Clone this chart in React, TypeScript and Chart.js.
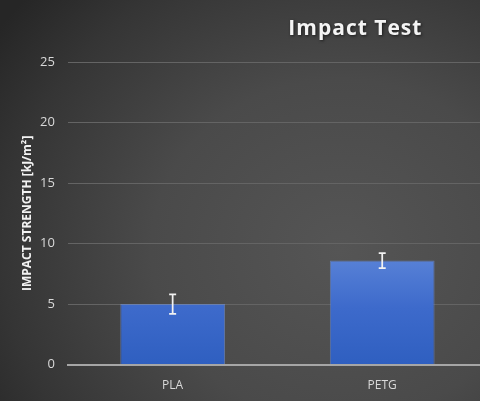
import React, { useEffect, useRef } from "react";
import { Chart, registerables } from "chart.js";

Chart.register(...registerables);

const categories = ["PLA", "PETG"];
const strengthValues = [5.0, 8.6];
const strengthErrors = [0.8, 0.62];
const yTicks = [0, 5, 10, 15, 20, 25];
const titleText = "Impact Test";
const yAxisTitle = "IMPACT STRENGTH [kJ/m²]";

const errorBarPlugin = {
  id: "errorBars",
  afterDatasetsDraw(chart: any) {
    const ctx = chart.ctx;
    const meta = chart.getDatasetMeta(0);
    const y = chart.scales.y;
    ctx.save();
    ctx.strokeStyle = "#f2f2f2";
    ctx.lineWidth = 1.75;
    meta.data.forEach((bar: any, i: number) => {
      const v = strengthValues[i];
      const e = strengthErrors[i];
      const yTop = y.getPixelForValue(v + e);
      const yBot = y.getPixelForValue(v - e);
      const x = bar.x;
      const cap = 3.5;
      ctx.beginPath();
      ctx.moveTo(x, yTop);
      ctx.lineTo(x, yBot);
      ctx.moveTo(x - cap, yTop);
      ctx.lineTo(x + cap, yTop);
      ctx.moveTo(x - cap, yBot);
      ctx.lineTo(x + cap, yBot);
      ctx.stroke();
    });
    ctx.restore();
  },
};

const titlePlugin = {
  id: "offsetTitle",
  afterDraw(chart: any) {
    const ctx = chart.ctx;
    const area = chart.chartArea;
    ctx.save();
    ctx.font = "bold 21px 'Open Sans', sans-serif";
    (ctx as any).letterSpacing = "1px";
    ctx.fillStyle = "#f4f4f4";
    ctx.textAlign = "center";
    ctx.textBaseline = "middle";
    ctx.shadowColor = "rgba(0,0,0,0.6)";
    ctx.shadowBlur = 3;
    ctx.shadowOffsetX = 1;
    ctx.shadowOffsetY = 1;
    const cx = area.left + (area.right - area.left) * 0.686;
    ctx.fillText(titleText, cx, area.top - 33);
    ctx.restore();

    // y-axis title
    ctx.save();
    ctx.font = "bold 12px 'Open Sans', sans-serif";
    ctx.fillStyle = "#f2f2f2";
    ctx.textAlign = "center";
    ctx.textBaseline = "middle";
    ctx.translate(area.left - 40, (area.top + area.bottom) / 2);
    ctx.rotate(-Math.PI / 2);
    ctx.fillText(yAxisTitle, 0, 0);
    ctx.restore();
  },
};

export default function App() {
  const ref = useRef<HTMLCanvasElement | null>(null);

  useEffect(() => {
    if (!ref.current) return;
    const chart = new Chart(ref.current, {
      type: "bar",
      data: {
        labels: categories,
        datasets: [
          {
            data: strengthValues,
            backgroundColor: (c: any) => {
              const area = c.chart.chartArea;
              if (!area) return "#3f6fcf";
              const g = c.chart.ctx.createLinearGradient(0, area.top + 190, 0, area.bottom);
              g.addColorStop(0, "#5b84d8");
              g.addColorStop(0.5, "#3d6acb");
              g.addColorStop(1, "#2f5fc0");
              return g;
            },
            borderColor: "rgba(110,145,220,0.6)",
            borderWidth: 1,
            categoryPercentage: 1,
            barPercentage: 0.5,
          },
        ],
      },
      options: {
        responsive: false,
        animation: false,
        maintainAspectRatio: false,
        layout: { padding: { top: 62, right: 13, bottom: 2, left: 27 } },
        plugins: {
          legend: { display: false },
          title: { display: false },
          tooltip: { enabled: false },
        },
        scales: {
          x: {
            grid: { display: false },
            border: { color: "#a6a6a6", width: 2 },
            ticks: {
              color: "#d9d9d9",
              font: { family: "'Open Sans', sans-serif", size: 12 },
              padding: 6,
            },
          },
          y: {
            min: 0,
            max: 25,
            afterBuildTicks: (axis: any) => {
              axis.ticks = yTicks.map((v) => ({ value: v }));
            },
            grid: { color: "#646464", lineWidth: 1, drawTicks: false },
            border: { display: false },
            ticks: {
              color: "#d9d9d9",
              font: { family: "'Open Sans', sans-serif", size: 13 },
              padding: 13,
            },
          },
        },
      },
      plugins: [errorBarPlugin, titlePlugin],
    });
    return () => chart.destroy();
  }, []);

  return (
    <div
      style={{
        position: "fixed",
        left: 0,
        top: 0,
        width: 480,
        height: 401,
        overflow: "hidden",
        background:
          "radial-gradient(ellipse 420px 380px at 340px 250px, #555555 0%, #4a4a4a 45%, #353535 80%, #262626 100%)",
      }}
    >
      <canvas ref={ref} width={500} height={401} style={{ display: "block" }} />
    </div>
  );
}
